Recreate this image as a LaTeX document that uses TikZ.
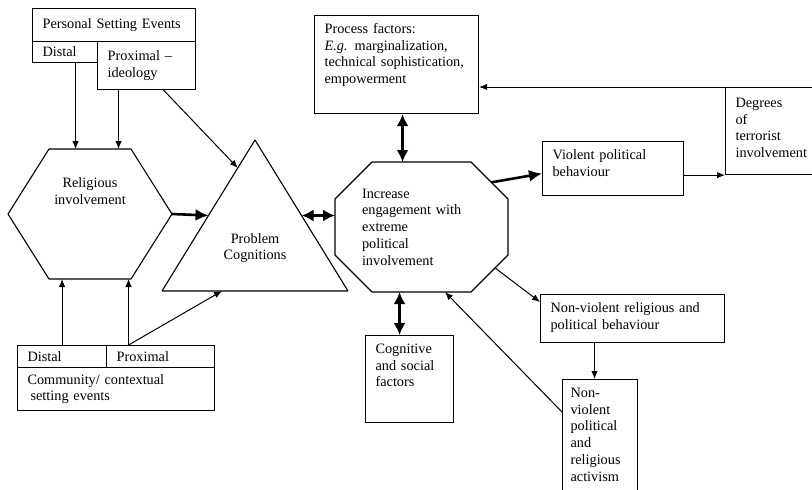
\documentclass[tikz,border=0pt]{standalone}
\usepackage{fontspec}
\setmainfont{Liberation Serif}
\usetikzlibrary{arrows.meta,calc}

\begin{document}
\begin{tikzpicture}[x=1pt, y=-1pt,
    font=\fontsize{14.3}{16.7}\selectfont,
    box/.style={draw, line width=1.1pt, anchor=north west, align=left, inner xsep=10pt, inner ysep=0pt},
    topbox/.style={box, inner ysep=8pt, text height=10pt},
    ghost/.style={inner sep=0pt, outer sep=0pt},
    outline/.style={line width=1.1pt, line join=round},
    arr/.style={-{Latex[length=8pt,width=6.5pt]}, line width=1pt},
    bigarr/.style={-{Latex[length=13pt,width=12pt]}, line width=2.6pt},
    dblarr/.style={{Latex[length=12pt,width=12pt]}-{Latex[length=12pt,width=12pt]}, line width=2.6pt}]

    \useasboundingbox (0,0) rectangle (812,490);

    % Personal setting events
    \node[box, text width=143pt, minimum height=33pt] (pse) at (32,8) {Personal Setting Events};
    \node[box, text width=45pt, minimum height=21pt] (pdist) at (32,41) {Distal};
    \node[box, text width=78pt, minimum height=48pt] (pprox) at (97,41) {Proximal --\\ideology};

    % Community setting events
    \node[box, text width=69pt, minimum height=22pt] (cdist) at (17,345) {Distal};
    \node[box, text width=88pt, minimum height=22pt] (cprox) at (106,345) {Proximal};
    \node[box, text width=177pt, minimum height=43pt] (cse) at (17,367) {Community/ contextual\\\hspace*{3pt}setting events};

    % Religious involvement (hexagon)
    \node[ghost, minimum width=164pt, minimum height=130pt] (hex) at (90,214) {};
    \draw[outline] (hex.west) -- ([xshift=41pt]hex.north west) -- ([xshift=-41pt]hex.north east)
        -- (hex.east) -- ([xshift=-41pt]hex.south east) -- ([xshift=41pt]hex.south west) -- cycle;
    \node[align=center] (religtxt) at ([yshift=23pt]hex.center) {Religious\\involvement};

    % Problem cognitions (triangle)
    \node[ghost, minimum width=186pt, minimum height=151pt] (tri) at (255,215.5) {};
    \draw[outline] (tri.north) -- (tri.south east) -- (tri.south west) -- cycle;
    \node[align=center] (probtxt) at ([yshift=-32.5pt]tri.center) {Problem\\Cognitions};

    % Engagement (octagon)
    \node[ghost, minimum width=173pt, minimum height=130pt, text width=119pt, align=left] (eng) at (421.5,227)
        {Increase\\engagement with\\extreme\\political\\involvement};
    \draw[outline] ([xshift=37pt]eng.north west) -- ([xshift=-37pt]eng.north east) -- ([yshift=-37pt]eng.north east)
        -- ([yshift=37pt]eng.south east) -- ([xshift=-37pt]eng.south east) -- ([xshift=37pt]eng.south west)
        -- ([yshift=37pt]eng.south west) -- ([yshift=-37pt]eng.north west) -- cycle;

    % Factor and outcome boxes
    \node[topbox, text width=144pt, text depth=72pt] (proc) at (314,15)
        {Process factors:\\\textit{E.g.} marginalization,\\technical sophistication,\\empowerment};
    \node[topbox, inner ysep=10pt, text width=90pt, text depth=57pt] (deg) at (725,87)
        {Degrees\\of\\terrorist\\involvement};
    \node[topbox, text width=121pt, text depth=28pt] (vio) at (542,141) {Violent political\\behaviour};
    \node[topbox, text width=68pt, text depth=61pt] (cog) at (365,335) {Cognitive\\and social\\factors};
    \node[topbox, text width=164pt, text depth=22pt] (nvb) at (540,294) {Non-violent religious and\\political behaviour};
    \node[topbox, inner xsep=8pt, text width=59pt, text depth=99pt] (act) at (562,379)
        {Non-\\violent\\political\\and\\religious\\activism};

    % Arrows into religious involvement
    \draw[arr] ([xshift=10.5pt]pdist.south) -- ([xshift=10.5pt]pdist.south |- hex.north);
    \draw[arr] ([xshift=-28pt]pprox.south) -- ([xshift=-28pt]pprox.south |- hex.north);
    \draw[arr] (cdist.north) -- (cdist.north |- hex.south);
    \draw[arr] ([xshift=-32pt]cprox.north) -- ([xshift=-32pt]cprox.north |- hex.south);

    % Arrows into problem cognitions
    \draw[arr] ([xshift=17pt]pprox.south) -- ($(tri.south west)!0.815!(tri.north)$);
    \draw[arr] ([xshift=-32pt]cprox.north) -- ([xshift=60pt]tri.south west);
    \draw[bigarr] (hex.east) -- ($(tri.south west)!0.5!(tri.north)$);
    \draw[dblarr] ($(tri.south east)!0.5!(tri.north)$) -- ([yshift=11.5pt]eng.west);

    % Process and cognitive factors
    \draw[dblarr] ([xshift=6pt]proc.south) -- ([xshift=6pt]proc.south |- eng.north);
    \draw[dblarr] ([xshift=-10pt]cog.north |- eng.south) -- ([xshift=-10pt]cog.north);

    % Outcomes
    \draw[bigarr] ($([xshift=-37pt]eng.north east)!0.55!([yshift=-37pt]eng.north east)$) -- ([yshift=-5pt]vio.west);
    \draw[arr] ($([yshift=37pt]eng.south east)!0.35!([xshift=-37pt]eng.south east)$) -- ([yshift=-8pt]nvb.north west);
    \draw[arr] ([xshift=-5.5pt]act.north |- nvb.south) -- ([xshift=-5.5pt]act.north);
    \draw[arr] ([yshift=-33pt]act.north west) -- ([xshift=23.5pt]eng.south);
    \draw[arr] (deg.south west -| vio.east) -- (deg.south west);
    \draw[arr] (deg.north west) -- (deg.north west -| proc.east);

\end{tikzpicture}
\end{document}
